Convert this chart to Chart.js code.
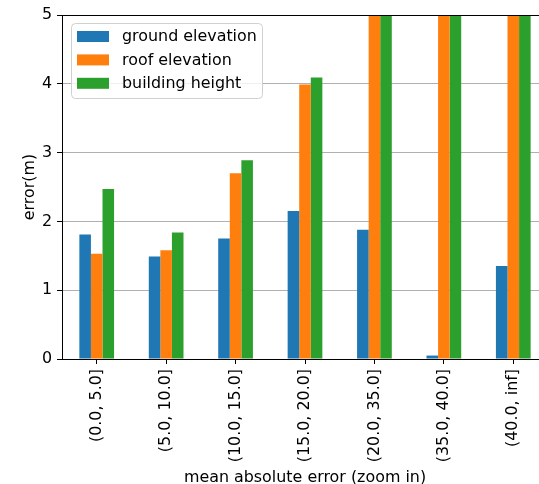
<!DOCTYPE html>
<html>
<head>
<meta charset="utf-8">
<script src="https://cdn.jsdelivr.net/npm/chart.js@4/dist/chart.umd.min.js"></script>
<style>
  html, body { margin: 0; padding: 0; background: #fff; overflow: hidden; }
  #wrap { width: 539px; height: 484px; overflow: hidden; }
  canvas { display: block; }
</style>
</head>
<body>
<div id="wrap"><canvas id="chart" width="560" height="484"></canvas></div>
<script>
// Error bins (mean absolute error of the zoomed-in view)
const bins = ['(0.0, 5.0]', '(5.0, 10.0]', '(10.0, 15.0]', '(15.0, 20.0]', '(20.0, 35.0]', '(35.0, 40.0]', '(40.0, inf]'];

// Mean error per bin, in metres (the axis is capped at 5 m)
const groundElevation = [1.81, 1.49, 1.75, 2.15, 1.88, 0.05, 1.35];
const roofElevation   = [1.53, 1.58, 2.70, 3.99, 6.4, 8.2, 9.5];
const buildingHeight  = [2.47, 1.84, 2.89, 4.09, 6.6, 8.3, 9.6];

const seriesNames = ['ground elevation', 'roof elevation', 'building height'];
const yTicks = [0, 1, 2, 3, 4, 5];

const FONT = 'DejaVu Sans';
const FS = 15.9;

// Legend box in the upper-left of the plot, plus the top frame line
const frameAndLegend = {
  id: 'frameAndLegend',
  afterDraw(chart) {
    const ctx = chart.ctx;
    const a = chart.chartArea;
    ctx.save();
    ctx.strokeStyle = '#000';
    ctx.lineWidth = 1;
    ctx.beginPath();
    ctx.moveTo(a.left, a.top + 0.5);
    ctx.lineTo(a.right, a.top + 0.5);
    ctx.stroke();

    // legend frame
    const bx = 71.5, by = 23.5, bw = 191, bh = 75, r = 4;
    ctx.beginPath();
    ctx.moveTo(bx + r, by);
    ctx.lineTo(bx + bw - r, by);
    ctx.quadraticCurveTo(bx + bw, by, bx + bw, by + r);
    ctx.lineTo(bx + bw, by + bh - r);
    ctx.quadraticCurveTo(bx + bw, by + bh, bx + bw - r, by + bh);
    ctx.lineTo(bx + r, by + bh);
    ctx.quadraticCurveTo(bx, by + bh, bx, by + bh - r);
    ctx.lineTo(bx, by + r);
    ctx.quadraticCurveTo(bx, by, bx + r, by);
    ctx.closePath();
    ctx.fillStyle = 'rgba(255,255,255,0.8)';
    ctx.fill();
    ctx.strokeStyle = '#d0d0d0';
    ctx.stroke();

    ctx.font = FS + 'px "' + FONT + '"';
    ctx.textBaseline = 'middle';
    ctx.textAlign = 'left';
    chart.data.datasets.forEach((ds, i) => {
      const cy = 36.5 + i * 23.4;
      ctx.fillStyle = ds.backgroundColor;
      ctx.fillRect(77, cy - 5.5, 32, 11);
      ctx.fillStyle = '#000';
      ctx.fillText(ds.label, 122, cy + 0.5);
    });
    ctx.restore();
  }
};

const colors = ['#1f77b4', '#ff7f0e', '#2ca02c'];
const values = [groundElevation, roofElevation, buildingHeight];

new Chart(document.getElementById('chart'), {
  type: 'bar',
  data: {
    labels: bins,
    datasets: values.map((v, i) => ({
      label: seriesNames[i],
      data: v,
      backgroundColor: colors[i],
      borderWidth: 0,
      categoryPercentage: 0.5,
      barPercentage: 1.0
    }))
  },
  options: {
    responsive: false,
    animation: false,
    devicePixelRatio: 1,
    // the plot runs slightly past the visible right edge
    layout: { padding: { top: 15, right: 12, left: 0, bottom: 0 } },
    plugins: { legend: { display: false }, tooltip: { enabled: false } },
    scales: {
      x: {
        afterFit(scale) { scale.height = 125; },
        grid: {
          offset: false,
          drawOnChartArea: false,
          drawTicks: true,
          tickLength: 5,
          tickColor: '#000',
          tickWidth: 1
        },
        border: { color: '#000', width: 1 },
        ticks: {
          autoSkip: false,
          minRotation: 90,
          maxRotation: 90,
          padding: 5,
          color: '#000',
          font: { family: FONT, size: FS }
        },
        title: {
          display: true,
          text: 'mean absolute error (zoom in)',
          color: '#000',
          font: { family: FONT, size: FS, lineHeight: 1 },
          padding: { top: 0, bottom: -2 }
        }
      },
      y: {
        z: 1,
        min: 0,
        max: 5,
        afterFit(scale) { scale.width = 62; },
        afterBuildTicks(scale) { scale.ticks = yTicks.map(v => ({ value: v })); },
        grid: {
          color: '#b0b0b0',
          lineWidth: 1,
          drawTicks: true,
          tickLength: 5,
          tickColor: '#000',
          tickWidth: 1
        },
        border: { color: '#000', width: 1 },
        ticks: {
          padding: 5,
          color: '#000',
          font: { family: FONT, size: FS }
        },
        title: {
          display: true,
          text: 'error(m)',
          color: '#000',
          font: { family: FONT, size: FS },
          padding: { top: 20, bottom: 0 }
        }
      }
    }
  },
  plugins: [frameAndLegend]
});
</script>
</body>
</html>
